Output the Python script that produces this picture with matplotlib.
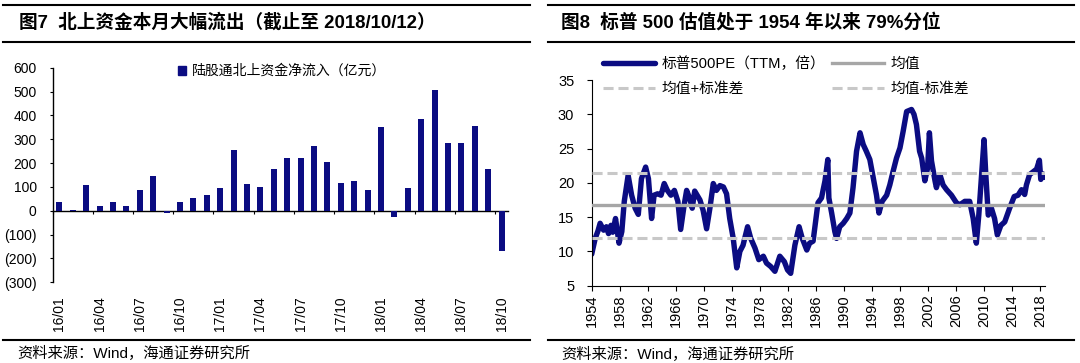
import matplotlib
matplotlib.use('Agg')
import matplotlib.pyplot as plt
from matplotlib.lines import Line2D
from matplotlib.patches import Patch
from matplotlib.ticker import FuncFormatter

plt.rcParams['font.family'] = ['Liberation Sans', 'Noto Sans CJK SC']
plt.rcParams['axes.unicode_minus'] = False

# ---- 图7: monthly northbound net inflow (亿元)
months = ['16/01', '16/02', '16/03', '16/04', '16/05', '16/06',
          '16/07', '16/08', '16/09', '16/10', '16/11', '16/12',
          '17/01', '17/02', '17/03', '17/04', '17/05', '17/06',
          '17/07', '17/08', '17/09', '17/10', '17/11', '17/12',
          '18/01', '18/02', '18/03', '18/04', '18/05', '18/06',
          '18/07', '18/08', '18/09', '18/10']
inflow = [37, 5, 107, 21, 37, 21,
          87, 147, -10, 37, 52, 67,
          97, 256, 112, 101, 177, 222,
          222, 271, 206, 117, 126, 87,
          351, -25, 96, 386, 506, 285,
          285, 356, 176, -167]

# ---- 图8: S&P 500 trailing PE since 1954
pe_year = [1954.0, 1954.3, 1954.5, 1954.9, 1955.2, 1955.7, 1956.1, 1956.4,
           1956.75, 1957.0, 1957.4, 1957.9, 1958.3, 1958.65, 1959.2, 1959.7,
           1960.2, 1960.65, 1961.1, 1961.7, 1962.1, 1962.55, 1962.9, 1963.4,
           1963.9, 1964.35, 1964.8, 1965.3, 1965.8, 1966.3, 1966.7, 1967.2,
           1967.55, 1968.0, 1968.35, 1968.7, 1969.45, 1969.9, 1970.4, 1970.9,
           1971.35, 1971.8, 1972.3, 1972.8, 1973.25, 1973.7, 1974.2, 1974.7,
           1975.15, 1975.6, 1976.25, 1976.7, 1977.3, 1977.85, 1978.5, 1978.95,
           1979.55, 1980.15, 1980.85, 1981.5, 1981.95, 1982.4, 1983.0, 1983.6,
           1984.05, 1984.7, 1985.1, 1985.6, 1986.3, 1986.8, 1987.3, 1987.7,
           1987.85, 1988.25, 1988.7, 1988.95, 1989.4, 1989.9, 1990.4, 1990.85,
           1991.3, 1991.8, 1992.3, 1992.75, 1993.2, 1993.7, 1994.2, 1994.65,
           1995.0, 1995.45, 1996.1, 1996.55, 1997.0, 1997.5, 1998.0, 1998.45,
           1998.95, 1999.65, 2000.0, 2000.35, 2000.8, 2001.1, 2001.55, 2001.95,
           2002.2, 2002.5, 2003.0, 2003.2, 2003.7, 2004.15, 2004.65, 2005.35,
           2006.05, 2006.55, 2007.25, 2007.95, 2008.45, 2008.9, 2009.25, 2009.65,
           2010.0, 2010.25, 2010.6, 2011.05, 2011.5, 2011.9, 2012.4, 2012.95,
           2013.65, 2014.3, 2014.85, 2015.35, 2015.8, 2016.05, 2016.5, 2017.0,
           2017.5, 2017.9, 2018.1, 2018.4, 2018.6]
pe_value = [9.6, 11.0, 11.9, 13.0, 14.1, 13.1, 13.6, 12.6,
            13.8, 12.8, 14.8, 11.2, 12.9, 17.3, 21.1, 18.2,
            16.3, 15.4, 20.6, 22.3, 20.6, 14.8, 18.2, 18.4,
            18.2, 19.9, 18.9, 18.2, 18.9, 17.3, 13.2, 16.8,
            18.9, 17.7, 16.3, 18.8, 17.5, 16.0, 13.3, 16.5,
            19.9, 18.9, 19.6, 19.4, 18.4, 14.8, 11.9, 7.6,
            10.0, 10.9, 13.6, 11.9, 10.5, 8.8, 9.3, 8.3,
            7.8, 7.1, 9.3, 8.5, 7.3, 6.8, 10.9, 13.6,
            11.9, 10.2, 11.2, 11.5, 17.1, 17.8, 20.3, 23.4,
            17.8, 15.6, 12.9, 11.9, 13.6, 14.1, 14.8, 15.6,
            19.3, 24.6, 27.3, 25.6, 24.6, 23.4, 20.7, 18.2,
            15.6, 17.3, 18.2, 19.7, 21.6, 23.6, 25.1, 27.5,
            30.4, 30.7, 30.0, 28.5, 24.6, 23.6, 20.3, 22.2,
            27.3, 23.2, 20.3, 19.3, 21.2, 19.7, 19.0, 18.2,
            17.1, 16.8, 17.3, 17.3, 14.8, 11.2, 15.3, 21.2,
            26.3, 21.2, 15.3, 16.3, 14.8, 12.4, 13.8, 14.3,
            16.3, 18.0, 18.2, 19.0, 18.3, 19.7, 21.2, 21.6,
            22.0, 23.3, 20.5, 21.3, 20.8]
pe_mean = 16.7
pe_upper = 21.5
pe_lower = 11.9
pe_ticks = list(range(1954, 2019, 4))

NAVY = '#0B0C82'
W, H = 1080, 363

fig = plt.figure(figsize=(W / 100, H / 100), dpi=100)


def fx(px):
    return px / W


def fy(px):
    return 1 - px / H


# report-style rules above/below each panel
for x0, x1 in ((3, 530), (548, 1074)):
    for y in (5.2, 42, 339.6):
        fig.add_artist(Line2D([fx(x0), fx(x1)], [fy(y), fy(y)], color='black', lw=1.5))

fig.text(fx(19), fy(22.5), '图7  北上资金本月大幅流出（截止至 2018/10/12）',
         fontsize=13.4, fontweight='bold', va='center')
fig.text(fx(561), fy(22.5), '图8  标普 500 估值处于 1954 年以来 79%分位',
         fontsize=13.4, fontweight='bold', va='center')
fig.text(fx(17), fy(353), '资料来源：Wind，海通证券研究所', fontsize=11, va='center')
fig.text(fx(561), fy(354), '资料来源：Wind，海通证券研究所', fontsize=11, va='center')

# ---- left panel: bars
ax1 = fig.add_axes([fx(52.6), fy(282.2), fx(455.8), 214.5 / H])
xs = range(len(months))
ax1.bar(xs, inflow, width=0.45, color=NAVY, zorder=3)
ax1.set_xlim(-0.5, len(months) - 0.5)
ax1.set_ylim(-300, 600)
ax1.set_yticks(range(-300, 601, 100))
ax1.yaxis.set_major_formatter(
    FuncFormatter(lambda v, p: f'({abs(int(v))})' if v < 0 else f'{int(v)}'))
ax1.spines[['top', 'right']].set_visible(False)
ax1.spines['bottom'].set_position(('data', 0))
ax1.spines[['left', 'bottom']].set_linewidth(1.0)
ax1.set_xticks([i - 0.5 for i in range(0, len(months), 3)])
ax1.tick_params(axis='x', length=2.5, direction='out', labelbottom=False)
ax1.tick_params(axis='y', length=2.5, direction='out', pad=9, labelsize=10)

sec = ax1.secondary_xaxis('bottom')
sec.set_xticks(list(range(0, len(months), 3)), labels=months[::3], rotation=90)
sec.spines['bottom'].set_visible(False)
sec.tick_params(length=0, pad=10, labelsize=10)

ax1.legend(handles=[Patch(color=NAVY)], labels=['陆股通北上资金净流入（亿元）'],
           loc='upper left', bbox_to_anchor=(fx(178), fy(64)),
           bbox_transform=fig.transFigure, frameon=False, borderpad=0,
           borderaxespad=0, handlelength=0.6, handleheight=0.6,
           handletextpad=0.4, fontsize=10)

# ---- right panel: PE line
ax2 = fig.add_axes([fx(591.7), fy(285.7), fx(453.3), 205.7 / H])
ax2.plot(pe_year, pe_value, color=NAVY, lw=3.9, solid_joinstyle='round',
         solid_capstyle='round', zorder=2, label='标普500PE（TTM，倍）')
ax2.axhline(pe_upper, color='#C8C8C8', lw=2.2, ls=(0, (3.3, 1.6)), zorder=3,
            label='均值+标准差')
ax2.axhline(pe_mean, color='#A6A6A6', lw=2.4, zorder=3, label='均值')
ax2.axhline(pe_lower, color='#C8C8C8', lw=2.2, ls=(0, (3.3, 1.6)), zorder=3,
            label='均值-标准差')
ax2.set_xlim(1954, 2018.7)
ax2.set_ylim(5, 35)
ax2.set_yticks(range(5, 36, 5))
ax2.set_xticks(pe_ticks)
ax2.set_xticklabels([str(t) for t in pe_ticks], rotation=90)
ax2.spines[['top', 'right']].set_visible(False)
ax2.tick_params(axis='x', length=3.5, pad=3, labelsize=10.5)
ax2.tick_params(axis='y', length=3.5, pad=9, labelsize=10.5)

ax2.legend(ncol=2, loc='upper left', bbox_to_anchor=(fx(603), fy(56)),
           bbox_transform=fig.transFigure, frameon=False, borderpad=0,
           borderaxespad=0, handlelength=3.5, handletextpad=0.45,
           columnspacing=0.5, labelspacing=0.8, fontsize=10.6)

fig.savefig('out.png', dpi=100)
